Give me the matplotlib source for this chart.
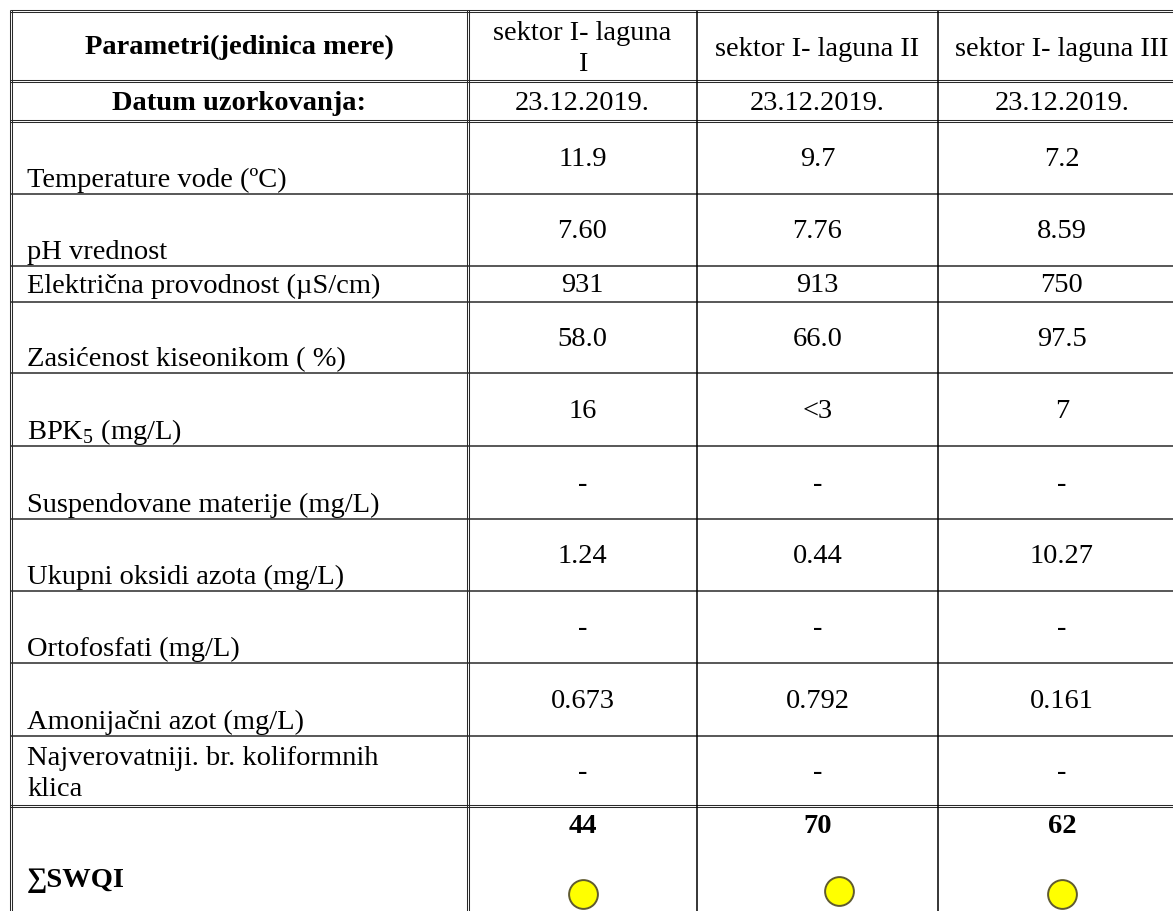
import matplotlib.pyplot as plt

plt.rcParams['font.family'] = ['Liberation Serif', 'DejaVu Serif']
plt.rcParams['mathtext.fontset'] = 'custom'
plt.rcParams['mathtext.rm'] = 'Liberation Serif'

# table content
head_param = "Parametri(jedinica mere)"
head_date = "Datum uzorkovanja:"
sectors = ["sektor I- laguna\nI", "sektor I- laguna II", "sektor I- laguna III"]
dates = ["23.12.2019.", "23.12.2019.", "23.12.2019."]
params = ["Temperature vode (ºC)", "pH vrednost", "Električna provodnost (µS/cm)",
          "Zasićenost kiseonikom ( %)", r"BPK$_\mathrm{5}$ (mg/L)",
          "Suspendovane materije (mg/L)", "Ukupni oksidi azota (mg/L)",
          "Ortofosfati (mg/L)", "Amonijačni azot (mg/L)",
          "Najverovatniji. br. koliformnih\nklica"]
laguna_1 = ["11.9", "7.60", "931", "58.0", "16", "-", "1.24", "-", "0.673", "-"]
laguna_2 = ["9.7", "7.76", "913", "66.0", "<3", "-", "0.44", "-", "0.792", "-"]
laguna_3 = ["7.2", "8.59", "750", "97.5", "7", "-", "10.27", "-", "0.161", "-"]
swqi = [44, 70, 62]
swqi_label = "∑SWQI"

# layout (pixels)
W, H = 1173, 912
col_edges = [11, 468, 697, 938, 1186]
row_edges = [12, 82, 122, 195, 267, 303, 374, 447, 520, 592, 664, 737, 807, 930]
double_rows = [0, 1, 2, 12]
double_cols = [0, 1]
dot_dx = [0, 21, 0]
dot_y = [895, 892, 895]

fig = plt.figure(figsize=(W / 100, H / 100), dpi=100)
ax = fig.add_axes([0, 0, 1, 1])
ax.set_xlim(0, W)
ax.set_ylim(H, 0)
ax.axis('off')

lc = '#2a2a2a'
# horizontal lines
for i, y in enumerate(row_edges[:-1]):
    if i in double_rows:
        ax.hlines([y - 1.3, y + 1.3], col_edges[0] - 1.5, W, color=lc, lw=0.75)
    else:
        ax.hlines(y, col_edges[0], W, color=lc, lw=1.1)
# vertical lines
for i, x in enumerate(col_edges[:-1]):
    if i in double_cols:
        ax.vlines([x - 1.3, x + 1.3], row_edges[0] - 1.5, H, color=lc, lw=0.75)
    else:
        ax.vlines(x, row_edges[0], H, color='black', lw=1.1)

fs = 20.5
centers = [(col_edges[i] + col_edges[i + 1]) / 2 for i in range(len(col_edges) - 1)]

def row_mid(r):
    return (row_edges[r] + row_edges[r + 1]) / 2

# header rows
ax.text(centers[0], row_mid(0), head_param, ha='center', va='center', fontsize=fs, fontweight='bold')
ax.text(centers[0], row_mid(1) + 1, head_date, ha='center', va='center', fontsize=fs, fontweight='bold')
for j in range(3):
    ax.text(centers[j + 1], row_mid(0) + 2, sectors[j], ha='center', va='center', fontsize=fs,
            linespacing=1.35)
    ax.text(centers[j + 1], row_mid(1) + 1, dates[j], ha='center', va='center', fontsize=fs)

# parameter rows
cols = [laguna_1, laguna_2, laguna_3]
for k, p in enumerate(params):
    r = k + 2
    top, bot = row_edges[r], row_edges[r + 1]
    if "\n" in p:
        ax.text(27, row_mid(r) + 2, p, ha='left', va='center', fontsize=fs, linespacing=1.35)
    elif bot - top < 50:
        ax.text(27, row_mid(r) + 1, p, ha='left', va='center', fontsize=fs)
    else:
        ax.text(27, bot - 8, p, ha='left', va='baseline', fontsize=fs)
    for j in range(3):
        ax.text(centers[j + 1], row_mid(r) + 1, cols[j][k], ha='center', va='center', fontsize=fs)

# SWQI row
ax.text(27, 881, swqi_label, ha='left', va='center', fontsize=fs, fontweight='bold')
for j in range(3):
    ax.text(centers[j + 1], 827, str(swqi[j]), ha='center', va='center', fontsize=fs, fontweight='bold')
ax.scatter([centers[j + 1] + dot_dx[j] for j in range(3)], dot_y, s=430,
           facecolor='#ffff00', edgecolor='#5f5a30', linewidths=1.4, zorder=3, clip_on=False)

fig.savefig('out.png', dpi=100)
